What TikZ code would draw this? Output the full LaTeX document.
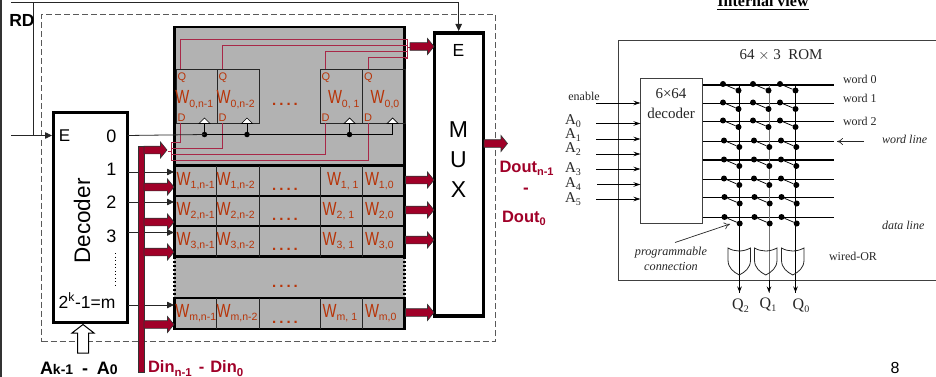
\documentclass[tikz,border=0pt]{standalone}
\usepackage{fontspec}
\setmainfont{Liberation Sans}
\newfontfamily\serifx{Liberation Serif}
\usetikzlibrary{arrows.meta,calc}
\definecolor{dred}{HTML}{A00028}
\definecolor{wred}{HTML}{B83408}
\definecolor{lred}{HTML}{A82848}
\definecolor{memgray}{HTML}{B2B2B2}
\newcommand{\fs}[1]{\fontsize{#1}{#1}\selectfont}
\newcommand{\wtxt}[1]{\scalebox{.78}[1]{\fs{19}W}\raisebox{-3.5pt}{\fs{10.5}#1}}
\newcommand{\fatarr}[2]{\draw[fatp] let \p1=(#1),\p2=(#2) in (\x1,\y1+3.8pt) -- (\x2-6.5pt,\y1+3.8pt) -- (\x2-6.5pt,\y1+8pt) -- (\x2,\y1) -- (\x2-6.5pt,\y1-8pt) -- (\x2-6.5pt,\y1-3.8pt) -- (\x1,\y1-3.8pt) -- cycle;}
\tikzset{
  txt/.style={inner sep=0pt,outer sep=0pt},
  thinw/.style={draw=black!85,line width=.8pt},
  thickbox/.style={draw=black,line width=2.6pt,fill=white,inner sep=0pt,outer sep=0pt},
  fatp/.style={fill=dred,draw=black!80,line width=.6pt},
  blackarr/.style={thinw,-{Triangle[length=7pt,width=6.5pt]}},
  redw/.style={draw=lred,line width=.9pt},
  sep/.style={draw=black!85,line width=1pt},
  heavy/.style={draw=black,line width=2.4pt},
  wlab/.style={txt,text=wred},
  qd/.style={txt,text=wred,font=\fs{11}},
  mdots/.style={txt,text=wred,font=\fs{15}\bfseries},
  dotc/.style={circle,fill=black,inner sep=0pt,minimum size=5.5pt},
  sdot/.style={circle,fill=black,inner sep=0pt,minimum size=6pt},
  romw/.style={draw=black,line width=.75pt},
  romarr/.style={draw=black,line width=.75pt,-{Stealth[length=7pt,width=4.5pt]}},
  st/.style={txt,font=\serifx\fs{12},text=black!85},
  sl/.style={txt,font=\serifx\fs{15},text=black!85},
  clk/.style={draw=black,fill=white,line width=.7pt},
}
\begin{document}
\begin{tikzpicture}[x=1pt,y=-1pt]
\useasboundingbox (0,0) rectangle (936,377);
% page edge
\coordinate (edgeT) at (1,0); \coordinate (edgeB) at (1,377);
\draw[draw=black!80,line width=1.4pt] (edgeT) -- (edgeB);
% dashed frame
\node[draw=black!65,dash pattern=on 6pt off 3pt,line width=.8pt,minimum width=453.5pt,minimum height=327pt,inner sep=0pt] (frame) at (268.25,178) {};
% memory background
\node[fill=memgray,draw=none,minimum width=231pt,minimum height=302pt,inner sep=0pt] (mem) at (289.5,178) {};
% rows
\foreach \n/\t/\b in {r0/27/165.5,r1/165.5/196,r2/196/226,r3/226/256.5,rm/298/329}{
  \draw[heavy] (174.5,\t) rectangle (404.5,\b);
  \coordinate (\n tl) at (174.5,\t);
}
\draw[black,line width=2.4pt,dash pattern=on 2pt off 2pt] (174.5,256.5) -- (174.5,298);
\draw[black,line width=2.4pt,dash pattern=on 2pt off 2pt] (404.5,256.5) -- (404.5,298);
% column separators rows 1..m
\foreach \t/\b in {166/196,196/226,226/256.5,298/329}{
  \foreach \x in {216.5,259,320,362}{ \draw[sep] (\x,\t) -- (\x,\b); }
}
% row 0 flip-flops
\foreach \n/\x/\w in {fa/175.5/41,fb/216.5/42.5,fc/319.7/42.3,fd/362/42.5}{
  \node[draw=black!85,line width=.9pt,minimum width=\w pt,minimum height=54pt,inner sep=0pt,anchor=north west] (\n) at (\x,69.5) {};
}
\foreach \q in {fa,fb,fc,fd}{
  \node[qd,anchor=west] at ($(\q.north west)+(2,8)$) {Q};
  \node[qd,anchor=west] at ($(\q.south west)+(2,-7)$) {D};
}
% clock
\foreach \n/\x in {ca/204.5,cb/247,cc/349.5,cd/392.5}{
  \draw[clk] (\x-5.5,123.5) -- (\x,118) -- (\x+5.5,123.5) -- cycle;
  \coordinate (\n) at (\x,123.5);
}
\coordinate (ena) at (204.5,134.5); \coordinate (enb) at (247,134.5); \coordinate (enc) at (349.5,134.5); \coordinate (end) at (392.5,134.5);
\foreach \c/\e in {ca/ena,cb/enb,cc/enc,cd/end}{ \draw[draw=black,line width=.9pt] (\c) -- (\e); }
\foreach \e in {ena,enb,enc}{ \node[dotc] at (\e) {}; }
% red lines Q / D
\foreach \x/\y in {180.5/39,222.5/45.5,325.5/51.5,368/57.5}{
  \draw[redw] (\x,69.5) -- (\x,\y) -- (407,\y);
  \draw[redw] (\x,123.5) -- (\x,{142+(\y-39)}) -- (171.5,{142+(\y-39)});
}
\draw[redw] (405,39) -- (407.5,39) -- (407.5,58) -- (405,58);
\draw[redw] (407.5,47) -- (410,47);
\draw[redw,line width=.8pt] (174,142) -- (171.5,142) -- (171.5,160.5) -- (174,160.5);
\draw[redw,line width=.8pt] (171.5,151) -- (168,151);
% W labels
\foreach \row/\y/\xa/\xb/\xc/\xd in {0/104/175.3/216.7/328/370.7,1/185/176.7/216.7/327/365,2/215/176.7/216.7/322.7/365,3/245/176.7/216.7/322.7/365,m/317/175.3/216.7/322.7/365}{
  \node[wlab,anchor=base west] at (\xa,\y) {\wtxt{\row,n-1}};
  \node[wlab,anchor=base west] at (\xb,\y) {\wtxt{\row,n-2}};
  \node[wlab,anchor=base west] at (\xc,\y) {\wtxt{\row, 1}};
  \node[wlab,anchor=base west] at (\xd,\y) {\wtxt{\row,0}};
}
\foreach \y in {106,190.5,220.5,250.5,287.7,323.7}{
  \node[mdots,anchor=base] at (285,\y) {.\kern3pt.\kern3pt.\kern3pt.};
}
% decoder
\node[thickbox,minimum width=74pt,minimum height=209.5pt] (dec) at (90.5,217.5) {};
\node[txt,font=\fs{17}] at (64.5,136) {E};
\node[txt,font=\fs{22.5},rotate=90] at (82,221) {Decoder};
\foreach \v/\y in {0/136,1/169,2/202.5,3/236}{
  \node[txt,font=\fs{18}] (o\v) at (111.5,\y) {\v};
}
\draw[draw=black,line width=1pt,dash pattern=on 1pt off 2.5pt] (115,253) -- (115,287);
\node[txt,font=\fs{17.5}] (om) at (87,300.5) {2\textsuperscript{k}-1=m};
% MUX
\node[thickbox,line width=3.2pt,minimum width=49pt,minimum height=283pt] (mux) at (459,174.5) {};
\node[txt,font=\fs{17.5}] at (458.5,50) {E};
\node[txt,font=\fs{23}] at (458.5,130) {M};
\node[txt,font=\fs{23}] at (458.5,160) {U};
\node[txt,font=\fs{23}] at (458.5,189.5) {X};
% RD wire
\coordinate (rdL) at (11,2.7); \coordinate (rdR) at (458.7,2.7); \coordinate (rdJ) at (33.5,2.7); \coordinate (eL) at (11,135.5); \coordinate (eJ) at (33.5,135.5);
\draw[thinw] (rdL) -- (rdR);
\draw[blackarr] (rdR) -- (458.7,31);
\draw[thinw] (rdJ) -- (eJ);
\draw[blackarr] (eL) -- (52,135.5);
\node[txt,font=\fs{17.5}\bfseries] (rd) at (22,20) {RD};
% decoder outputs
\coordinate (d0) at (127.5,135.5);
\draw[thinw] (d0) -- (ena);
\draw[draw=black,line width=.9pt] (ena) -- (end);
\foreach \y in {172,202,232.5,305}{
  \coordinate (dl) at (127.5,\y); \coordinate (ml) at (174,\y);
  \draw[blackarr] (dl) -- (ml);
}
% Din bus
\node[fill=dred,draw=black!80,line width=.6pt,minimum width=6.5pt,minimum height=226pt,inner sep=0pt] (bus) at (141.3,259) {};
\foreach \y/\e in {150/167,187/174,222/174,252/174,324.5/174}{
  \coordinate (bs) at (144,\y); \coordinate (be) at (\e,\y);
  \fatarr{bs}{be}
}
\coordinate (os) at (410,46.5); \coordinate (oe) at (434,46.5);
\fatarr{os}{oe}
\foreach \y in {180,210,240,312.5}{
  \coordinate (os) at (405.5,\y); \coordinate (oe) at (434,\y);
  \fatarr{os}{oe}
}
\coordinate (ms) at (484,143.5); \coordinate (me) at (507.5,143.5);
\fatarr{ms}{me}
% hollow arrow
\draw[draw=black,line width=1pt,fill=white] (83,324.5) -- (94,333) -- (88.5,333) -- (88.5,353) -- (77.5,353) -- (77.5,333) -- (72,333) -- cycle;
% bold labels
\node[txt,anchor=base west,font=\bfseries] at (40,374) {\fs{18}A\fs{14}k-1\hspace{9pt}\fs{18}-\hspace{8.7pt}A\fs{14}0};
\node[txt,anchor=base west,text=dred,font=\bfseries] at (148,372.5) {\fs{16.5}Din\raisebox{-3.5pt}{\fs{11.5}n-1}\hspace{7pt}\fs{16.5}-\hspace{6pt}Din\raisebox{-3.5pt}{\fs{11.5}0}};
\node[txt,anchor=base west,text=dred,font=\bfseries] at (499.5,172) {\fs{16.5}Dout\raisebox{-3.5pt}{\fs{11}n-1}};
\node[txt,text=dred,font=\bfseries\fs{17}] at (526,190.5) {-};
\node[txt,anchor=base west,text=dred,font=\bfseries] at (502,222) {\fs{16.5}Dout\raisebox{-3.5pt}{\fs{11}0}};
% -------- right: ROM
\node[txt,anchor=base,font=\serifx\bfseries\fs{16}] (iv) at (763,7) {Internal view};
\coordinate (ivL) at (717,9.7); \coordinate (ivR) at (809,9.7);
\draw[draw=black,line width=1.1pt] (ivL) -- (ivR);
\coordinate (bA) at (950,40); \coordinate (bB) at (618.5,40); \coordinate (bC) at (618.5,280.5); \coordinate (bD) at (950,280.5);
\draw[draw=black!75,line width=.9pt] (bA) -- (bB) -- (bC) -- (bD);
\node[txt,font=\serifx\fs{15},text=black!85] at (781,55) {64 $\times$ 3\enspace ROM};
\node[draw=black!75,line width=.9pt,fill=white,minimum width=62pt,minimum height=145pt,inner sep=0pt] (rdec) at (671.5,150.5) {};
\node[txt,font=\serifx\fs{15},text=black!85] at (671,94) {6×64};
\node[txt,font=\serifx\fs{15},text=black!85] at (671,113) {decoder};
% word lines
\foreach \i/\y/\lw in {0/85/1.6,1/103/.8,2/121/.8,3/141.5/.8,4/160/1.6,5/179.5/.8,6/197.5/.8,7/217.5/.8}{
  \coordinate (wl\i) at (702.5,\y); \coordinate (wr\i) at (834,\y);
  \draw[draw=black,line width=\lw pt] (wl\i) -- (wr\i);
}
% data lines
\foreach \i/\x/\c in {2/739.5/black,1/769/black!55,0/795.5/black}{
  \coordinate (dt\i) at (\x,85); \coordinate (db\i) at (\x,292.5);
  \draw[draw=\c,line width=.9pt] (dt\i) -- (db\i);
  \draw[draw=black,line width=.9pt,-{Stealth[length=6pt,width=4.5pt]}] (\x,280) -- (db\i);
}
% switches
\foreach \y/\o in {84/0,102.5/0,120.5/0,140.5/1,159.5/1,178.5/1,197/1.5,217/1.5}{
  \foreach \u/\l in {723/738.5,753/768.5,780/795.5}{
    \node[sdot] (su) at (\u+\o,\y) {};
    \node[sdot] (sl) at (\l+\o*.8,\y+6.5) {};
    \draw[romw] (su) -- (sl);
  }
}
% OR gates
\foreach \x in {728,754.5,781.5}{
  \draw[draw=black!85,line width=.8pt] (\x,248) .. controls (\x+7,252) and (\x+15,252) .. (\x+22.5,248) -- (\x+22.5,260) .. controls (\x+22.5,268) and (\x+17,272) .. (\x+11.25,275) .. controls (\x+5.5,272) and (\x,268) .. (\x,260) -- cycle;
}
% inputs
\node[st] at (584,96) {enable};
\foreach \n/\y/\s in {en/103/596,a0/123.5/596,a1/139/596,a2/154/596,a3/169/596,a4/184.5/597,a5/199/596}{
  \coordinate (\n) at (\s,\y); \coordinate (\n e) at (640.5,\y);
  \draw[romarr] (\n) -- (\n e);
}
\foreach \v/\y in {0/121,1/135,2/149.5,3/169,4/184,5/199}{
  \node[sl,anchor=west] at (565,\y) {A\raisebox{-3pt}{\fs{10}\v}};
}
% right labels
\node[st,anchor=west] at (843,79) {word 0};
\node[st,anchor=west] at (843,98) {word 1};
\node[st,anchor=west] at (843,121) {word 2};
\node[st,anchor=west,font=\serifx\itshape\fs{12}] (wl) at (882,139) {word line};
\coordinate (wlb) at (864,141.5); \coordinate (wlt) at (837,141.5);
\draw[draw=black!85,line width=.7pt,-{To[length=6pt,width=7pt]}] (wlb) -- (wlt);
\node[st,anchor=west,font=\serifx\itshape\fs{12}] at (882,225) {data line};
\node[st,anchor=west] at (829,256) {wired-OR};
\node[st,font=\serifx\itshape\fs{12.2}] (pc1) at (671,253) {programmable};
\node[st,font=\serifx\itshape\fs{12.2}] (pc2) at (671,266.5) {connection};
\coordinate (pa) at (675,242.5); \coordinate (pb) at (730,224);
\draw[draw=black!85,line width=.7pt,-{To[length=6pt,width=7pt]}] (pa) -- (pb);
\node[sl,font=\serifx\fs{16}] at (740.5,305.5) {Q\raisebox{-3pt}{\fs{10}2}};
\node[sl,font=\serifx\fs{16}] at (768,305) {Q\raisebox{-3pt}{\fs{10}1}};
\node[sl,font=\serifx\fs{16}] at (801,305.5) {Q\raisebox{-3pt}{\fs{10}0}};
\node[txt,font=\fs{16}] at (895,368) {8};
\end{tikzpicture}
\end{document}
